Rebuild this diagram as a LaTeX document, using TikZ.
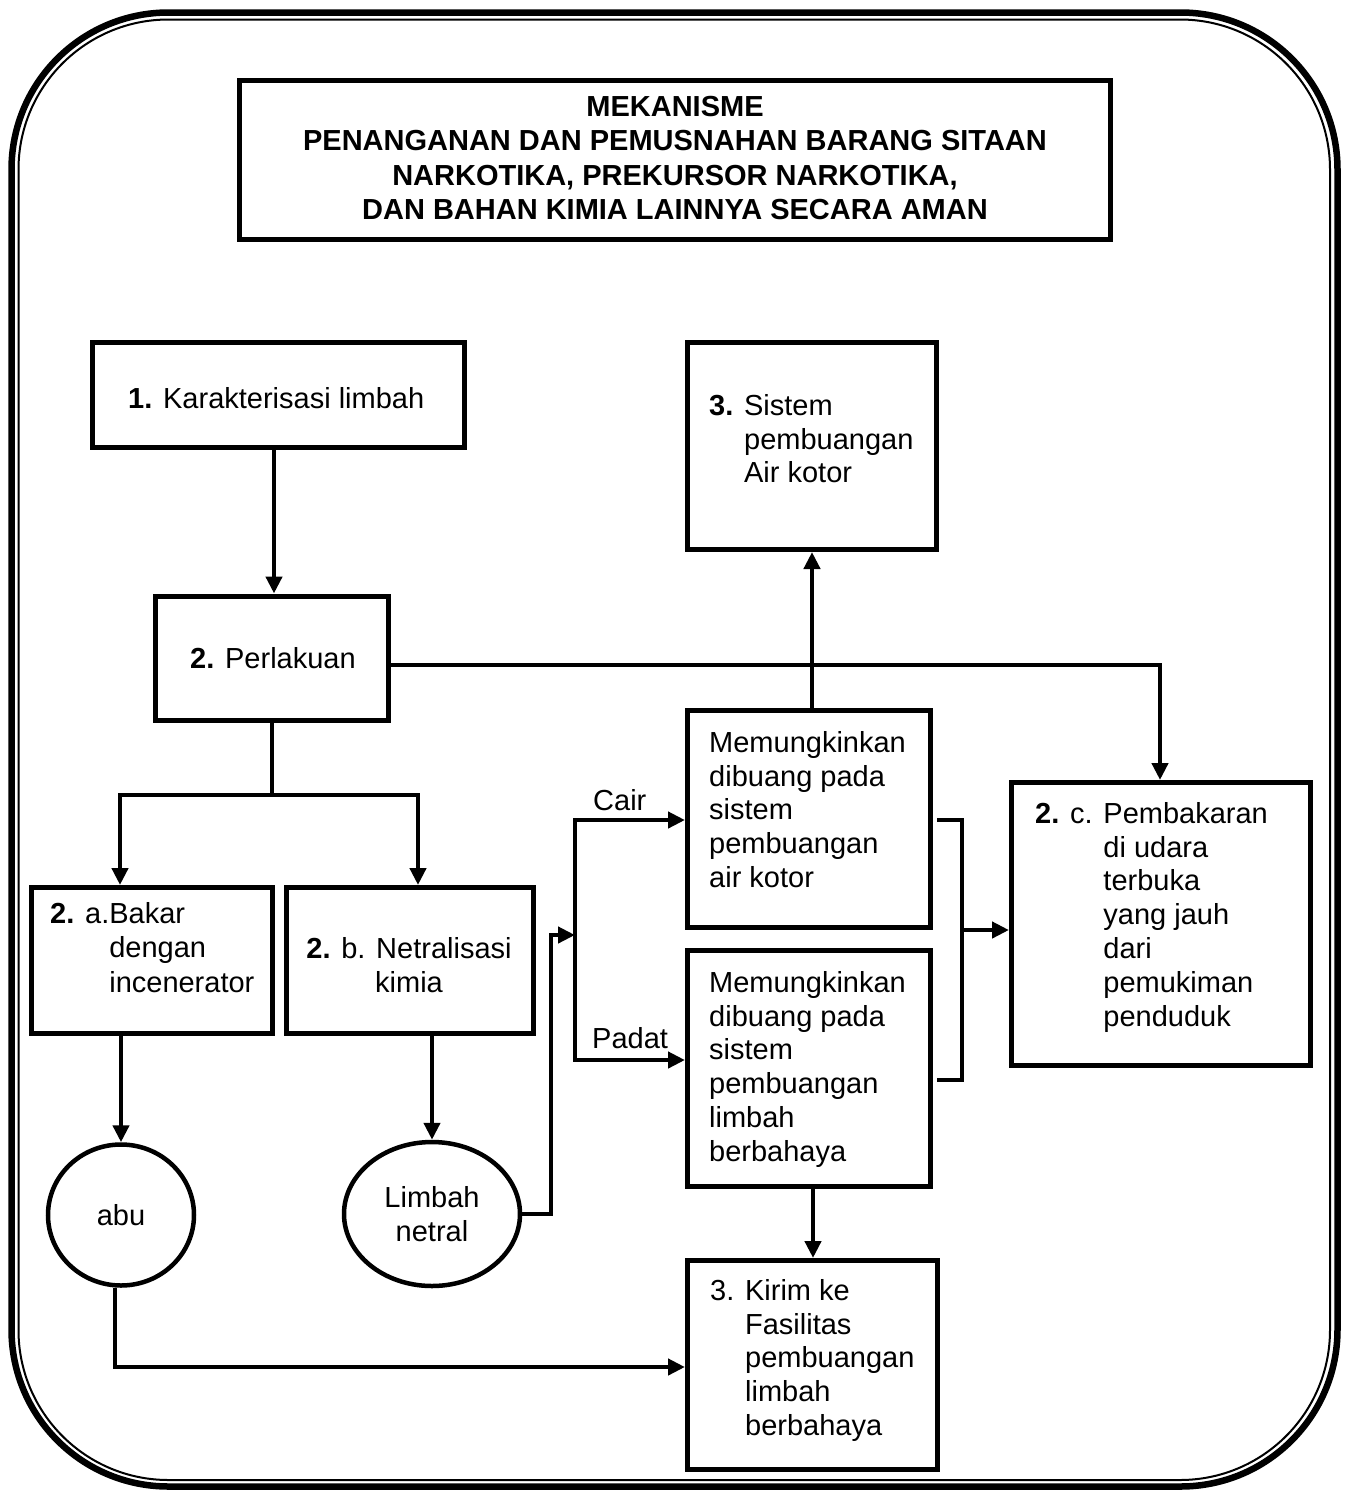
\documentclass[tikz,border=0pt]{standalone}
\usepackage{fontspec}
\setmainfont{Liberation Sans}
\usetikzlibrary{arrows.meta,shapes.geometric}
\begin{document}
\begin{tikzpicture}[x=1pt,y=-1pt,
  font=\fontsize{29}{33.8}\selectfont,
  bx/.style={draw,line width=5pt,rectangle,inner sep=0pt},
  ell/.style={draw,ellipse,line width=4.5pt,inner sep=0pt,align=center},
  txt/.style={inner sep=0pt,align=left},
  conn/.style={line width=4.5pt,line join=miter},
  arr/.style={conn,-{Triangle[length=17pt,width=16pt]}}]
\useasboundingbox (0,0) rectangle (1348,1492);
% outer frame
\draw[line width=6.5pt,rounded corners=157pt] (11.5,12.5) rectangle (1337.5,1486.5);
\draw[line width=2pt,rounded corners=150pt] (18.5,19.5) rectangle (1330,1480);
% boxes
\node[bx,minimum width=870.5pt,minimum height=158.5pt] (title) at (674.75,159.75) {};
\node[bx,minimum width=372pt,minimum height=105.5pt] (box1) at (278,394.75) {};
\node[bx,minimum width=233pt,minimum height=124pt] (box2) at (271.5,658) {};
\node[bx,minimum width=241pt,minimum height=145.5pt] (box2a) at (151.5,960.25) {};
\node[bx,minimum width=247pt,minimum height=145.5pt] (box2b) at (409.5,960.25) {};
\node[bx,minimum width=249pt,minimum height=207pt] (sistem) at (812,446) {};
\node[bx,minimum width=243pt,minimum height=217pt] (m1) at (809,819) {};
\node[bx,minimum width=243pt,minimum height=235.5pt] (m2) at (809,1068.25) {};
\node[bx,minimum width=250pt,minimum height=209pt] (kirim) at (812.5,1365) {};
\node[bx,minimum width=299pt,minimum height=283pt] (box2c) at (1161,924) {};
\node[ell,minimum width=146pt,minimum height=141pt] (abu) at (121,1215) {abu};
\node[ell,minimum width=176pt,minimum height=144pt] (netral) at (432,1214) {Limbah\\netral};
% texts
\node[inner sep=0pt,align=center,anchor=north,font=\fontsize{29}{34.3}\selectfont\bfseries] (ttitle) at (675,96)
  {MEKANISME\\PENANGANAN DAN PEMUSNAHAN BARANG SITAAN\\NARKOTIKA, PREKURSOR NARKOTIKA,\\DAN BAHAN KIMIA LAINNYA SECARA AMAN};
\node[txt,anchor=base west] (t1) at (128,408) {\textbf{1.} Karakterisasi limbah};
\node[txt,anchor=base west] (t2) at (190,668) {\textbf{2.} Perlakuan};
\node[txt,anchor=north west,font=\fontsize{29}{34.4}\selectfont] (t2a) at (50,902)
  {\textbf{2.} a.Bakar\\\phantom{\textbf{2.} a.}dengan\\\phantom{\textbf{2.} a.}incenerator};
\node[inner sep=0pt,align=center,anchor=north,font=\fontsize{29}{34.4}\selectfont] (t2b) at (409,937)
  {\textbf{2.} b. Netralisasi\\kimia};
\node[txt,anchor=north west] (t2c) at (1035,802)
  {\textbf{2.} c. Pembakaran\\\phantom{\textbf{2.} c. }di udara\\\phantom{\textbf{2.} c. }terbuka\\\phantom{\textbf{2.} c. }yang jauh\\\phantom{\textbf{2.} c. }dari\\\phantom{\textbf{2.} c. }pemukiman\\\phantom{\textbf{2.} c. }penduduk};
\node[txt,anchor=north west] (t3) at (709,394)
  {\textbf{3.} Sistem\\\phantom{\textbf{3.} }pembuangan\\\phantom{\textbf{3.} }Air kotor};
\node[txt,anchor=north west] (tm1) at (709,731)
  {Memungkinkan\\dibuang pada\\sistem\\pembuangan\\air kotor};
\node[txt,anchor=north west] (tm2) at (709,971)
  {Memungkinkan\\dibuang pada\\sistem\\pembuangan\\limbah\\berbahaya};
\node[txt,anchor=north west] (tk) at (710,1279)
  {3. Kirim ke\\\phantom{3. }Fasilitas\\\phantom{3. }pembuangan\\\phantom{3. }limbah\\\phantom{3. }berbahaya};
\node[txt,anchor=base west] (cair) at (593,810) {Cair};
\node[txt,anchor=base west] (padat) at (592,1048) {Padat};
% connectors
\coordinate (c1x) at (274,0);
\draw[arr] (box1.south -| c1x) -- (box2.north -| c1x);
\coordinate (j1) at (272,795);
\coordinate (jl) at (120,795);
\coordinate (jr) at (418,795);
\draw[conn] (box2.south -| j1) -- (j1);
\draw[arr] (j1) -| (box2a.north -| jl);
\draw[arr] (j1) -| (box2b.north -| jr);
\coordinate (h1) at (400,665);
\coordinate (h2) at (1160,665);
\draw[arr] (box2.east |- h1) -- (h2) -- (box2c.north -| h2);
\draw[arr] (abu.north |- box2a.south) -- (abu.north);
\draw[arr] (netral.north |- box2b.south) -- (netral.north);
\coordinate (n2) at (551,935);
\coordinate (sp) at (575,935);
\draw[arr] (netral.east) -| (n2) -- (sp);
\coordinate (stop) at (575,820);
\coordinate (sbot) at (575,1060);
\draw[arr] (sbot) -- (stop) -- (m1.west |- stop);
\draw[arr] (stop) -- (sbot) -- (m2.west |- sbot);
\coordinate (u) at (812,0);
\draw[arr] (m1.north -| u) -- (sistem.south -| u);
\coordinate (b1) at (937,820);
\coordinate (b2) at (962,820);
\coordinate (b3) at (962,1080);
\coordinate (b4) at (937,1080);
\coordinate (bm) at (962,930);
\draw[conn] (b1) -- (b2) -- (b3) -- (b4);
\draw[arr] (bm) -- (box2c.west |- bm);
\coordinate (d) at (813,0);
\draw[arr] (m2.south -| d) -- (kirim.north -| d);
\coordinate (a1) at (115,1367);
\draw[arr] (abu.south -| a1) -- (a1) -- (kirim.west |- a1);
\end{tikzpicture}
\end{document}
